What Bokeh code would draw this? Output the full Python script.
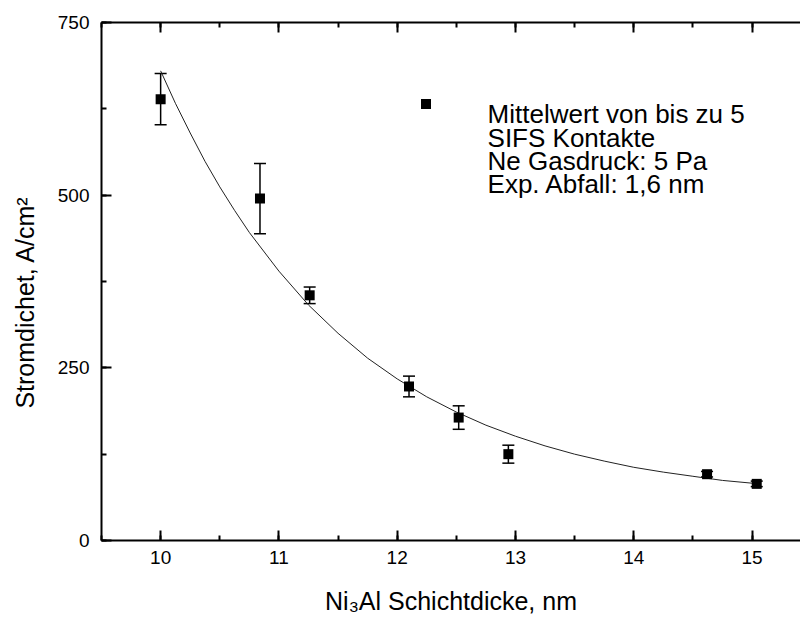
from bokeh.plotting import figure
from bokeh.models import (ColumnDataSource, Whisker, TeeHead, LinearAxis, SingleIntervalTicker,
                          Range1d, Legend, LegendItem, Label)
from bokeh.core.properties import value
from bokeh.embed import file_html
from bokeh.resources import INLINE

# ---- data ----
thickness = [10.0, 10.84, 11.26, 12.10, 12.52, 12.94, 14.62, 15.04]
current_density = [639, 495, 355, 223, 178, 125, 96, 82]
error = [37, 51, 12, 15, 17, 13, 4, 4]

fit_x = [10.0, 10.125, 10.25, 10.375, 10.5, 10.625, 10.75, 11.0, 11.25, 11.5, 11.75, 12.0,
         12.25, 12.5, 12.75, 13.0, 13.25, 13.5, 13.75, 14.0, 14.25, 14.5, 14.75, 15.0, 15.05]
fit_y = [680, 633, 590, 549, 512, 478, 446, 390, 341, 300, 264, 234,
         208, 186, 167, 151, 137, 125, 115, 106, 99, 93, 87, 83, 82]

legend_lines = ["Mittelwert von bis zu 5", "SIFS Kontakte", "Ne Gasdruck: 5 Pa", "Exp. Abfall: 1,6 nm"]
x_title = "Ni\u2083Al Schichtdicke, nm"
y_title = "Stromdichet, A/cm\u00b2"

FONT = "Liberation Sans"

src = ColumnDataSource(dict(
    x=thickness, y=current_density,
    upper=[v + e for v, e in zip(current_density, error)],
    lower=[v - e for v, e in zip(current_density, error)],
))

p = figure(width=800, height=617, output_backend="svg", toolbar_location=None,
           x_range=Range1d(9.5, 15.41), y_range=Range1d(0, 750),
           min_border_left=101, min_border_right=0, min_border_top=22, min_border_bottom=75,
           x_axis_location=None, y_axis_location=None)
p.outline_line_color = None
p.xgrid.visible = False
p.ygrid.visible = False
p.background_fill_color = "white"
p.border_fill_color = "white"

def style_axis(ax):
    ax.axis_line_width = 2
    ax.axis_line_color = "black"
    ax.major_tick_in = 10
    ax.major_tick_out = 0
    ax.minor_tick_in = 5
    ax.minor_tick_out = 0
    ax.major_tick_line_width = 2
    ax.minor_tick_line_width = 2
    ax.major_tick_line_color = "black"
    ax.minor_tick_line_color = "black"
    ax.major_label_text_font = FONT
    ax.major_label_text_font_size = "19px"
    ax.major_label_text_color = "black"
    ax.axis_label_text_font = FONT
    ax.axis_label_text_font_size = "24px"
    ax.axis_label_text_font_style = "normal"
    ax.axis_label_text_color = "black"

xt = SingleIntervalTicker(interval=1, num_minor_ticks=2)
yt = SingleIntervalTicker(interval=250, num_minor_ticks=2)

xb = LinearAxis(ticker=xt, axis_label=x_title)
style_axis(xb)
xb.axis_label_text_font_size = "25px"
xb.major_label_standoff = 10
xb.axis_label_standoff = 20
p.add_layout(xb, "below")

xtop = LinearAxis(ticker=SingleIntervalTicker(interval=1, num_minor_ticks=2))
style_axis(xtop)
xtop.major_label_text_font_size = "1px"
xtop.major_label_text_color = None
xtop.major_label_standoff = 0
p.add_layout(xtop, "above")

# non-breaking spaces push the visible title a little below the frame centre, as in the reference
yl = LinearAxis(ticker=yt, axis_label=y_title + "\u00a0" * 6)
style_axis(yl)
yl.axis_label_text_font_size = "25px"
yl.major_label_standoff = 12
yl.axis_label_standoff = 16
p.add_layout(yl, "left")

# fit curve
p.line(fit_x, fit_y, line_color="#222222", line_width=1)

# error bars
w = Whisker(source=src, base="x", upper="upper", lower="lower", dimension="height",
            line_color="black", line_width=1.5,
            upper_head=TeeHead(size=12, line_color="black", line_width=1.5),
            lower_head=TeeHead(size=12, line_color="black", line_width=1.5))
p.add_layout(w)

pts = p.scatter("x", "y", source=src, marker="square", size=10,
                fill_color="black", line_color=None)

legend = Legend(items=[LegendItem(label=value(""), renderers=[pts])],
                location=(311.5, 424.5), padding=0, margin=0, spacing=0,
                glyph_width=25, glyph_height=25, label_width=0, label_height=25,
                label_standoff=0, border_line_color=None, background_fill_alpha=0,
                label_text_font_size="1px", label_text_color=None)
p.add_layout(legend)

lab = Label(x=12.764, y=639, x_units="data", y_units="data",
            text="\n".join(legend_lines), text_font=FONT, text_font_size="26px",
            text_color="black", text_baseline="top", text_align="left", text_line_height=0.78)
p.add_layout(lab)

open("out.html", "w").write(file_html(p, INLINE))
